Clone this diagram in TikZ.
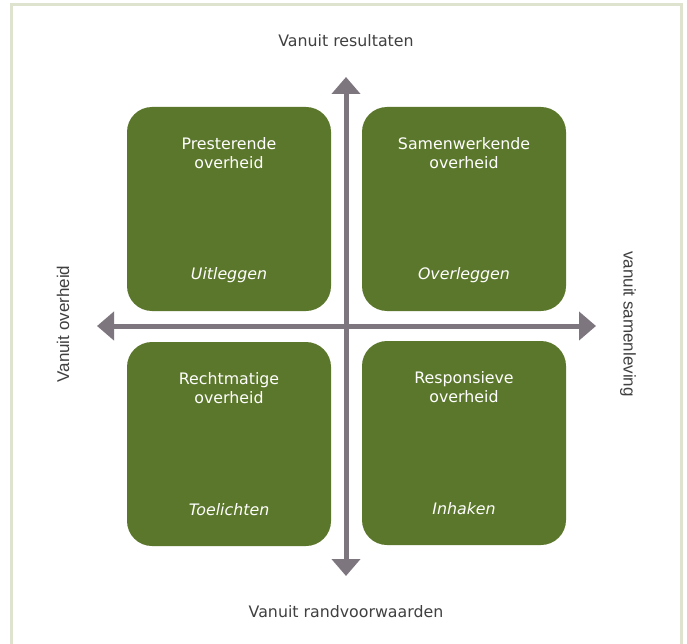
\documentclass[tikz,border=0pt]{standalone}
\usepackage{fontspec}
\setmainfont{DejaVu Sans}
\newfontfamily\sidefont{Liberation Sans}
\usetikzlibrary{arrows.meta}
\definecolor{boxgreen}{HTML}{5B772B}
\definecolor{axisgrey}{HTML}{7E767F}
\definecolor{framecol}{HTML}{DDE3CF}
\definecolor{labelgrey}{HTML}{404040}
\begin{document}
\begin{tikzpicture}[x=1pt,y=-1pt,
  quad/.style={draw=none,fill=boxgreen,rounded corners=25pt,minimum width=204pt,minimum height=204pt,inner sep=0pt},
  title/.style={text=white,font=\fontsize{15.8}{19}\selectfont,align=center,inner sep=0pt},
  verb/.style={text=white,font=\fontsize{15.8}{19}\selectfont\itshape,inner sep=0pt},
  axislabel/.style={text=labelgrey,font=\fontsize{15.8}{19}\selectfont,inner sep=0pt},
  sidelabel/.style={text=labelgrey,font=\sidefont\fontsize{17}{20}\selectfont,inner sep=0pt},
  axis/.style={draw=axisgrey,line width=5pt,{Triangle[width=28pt,length=17pt]}-{Triangle[width=28pt,length=17pt]}}
]
\useasboundingbox (0,0) rectangle (687,644);
\fill[white] (0,0) rectangle (687,644);
% frame
\fill[framecol] (10,3) rectangle (683,6);
\fill[framecol] (10,3) rectangle (13,644);
\fill[framecol] (680,3) rectangle (683,644);
% quadrants
\node[quad] (tl) at (229,209) {};
\node[quad] (tr) at (464,209) {};
\node[quad] (bl) at (229,444) {};
\node[quad] (br) at (464,443) {};
% axes
\coordinate (up) at (346,77);
\coordinate (down) at (346,576);
\coordinate (left) at (97,326);
\coordinate (right) at (596,326);
\draw[axis] (down) -- (up);
\draw[axis] (left) -- (right);
% texts in boxes
\node[title] (tlt) at ([yshift=-46pt]tl.north) {Presterende\\overheid};
\node[verb] (tlv) at ([yshift=-168pt]tl.north) {Uitleggen};
\node[title] (trt) at ([yshift=-46pt]tr.north) {Samenwerkende\\overheid};
\node[verb] (trv) at ([yshift=-168pt]tr.north) {Overleggen};
\node[title] (blt) at ([yshift=-46pt]bl.north) {Rechtmatige\\overheid};
\node[verb] (blv) at ([yshift=-168pt]bl.north) {Toelichten};
\node[title] (brt) at ([yshift=-46pt]br.north) {Responsieve\\overheid};
\node[verb] (brv) at ([yshift=-168pt]br.north) {Inhaken};
% axis labels
\node[axislabel] (lt) at (346,41) {Vanuit resultaten};
\node[axislabel] (lb) at (346,612) {Vanuit randvoorwaarden};
\node[sidelabel,rotate=90] (ll) at (63,324) {Vanuit overheid};
\node[sidelabel,rotate=-90] (lr) at (628,324) {vanuit samenleving};
\end{tikzpicture}
\end{document}
